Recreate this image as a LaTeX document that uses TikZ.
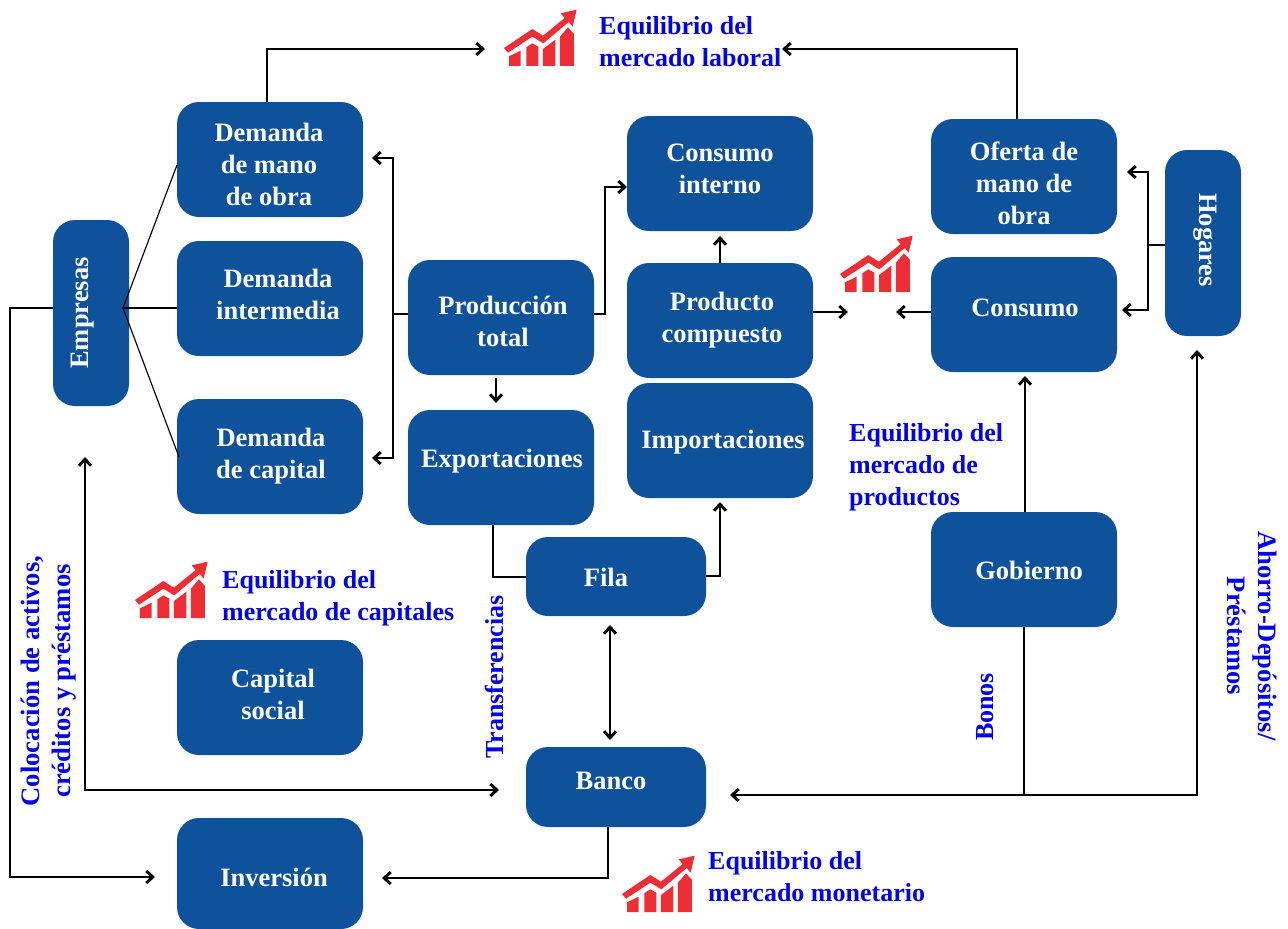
\documentclass[tikz,border=0pt]{standalone}
\usepackage{fontspec}
\setmainfont{Liberation Serif}
\usetikzlibrary{arrows.meta}
\definecolor{boxblue}{HTML}{0F529C}
\definecolor{labblue}{HTML}{0000F0}
\definecolor{iconred}{HTML}{EE2E34}
\tikzset{
  boxst/.style={fill=boxblue,draw=none,rounded corners=22pt,inner sep=0pt,outer sep=0pt},
  boxtext/.style={text=white,font=\fontsize{26.5}{32}\selectfont\bfseries,align=center,inner sep=0pt},
  labeltext/.style={text=labblue,font=\fontsize{26}{32}\selectfont\bfseries,inner sep=0pt},
  sidetext/.style={text=labblue,font=\fontsize{26.6}{31}\selectfont\bfseries,inner sep=0pt},
  conn/.style={line width=1.15pt,draw=black,line join=miter},
  arr/.style={conn,-{Straight Barb[length=6.5pt,width=12pt,line width=3pt]}},
  darr/.style={conn,{Straight Barb[length=6.5pt,width=12pt,line width=3pt]}-{Straight Barb[length=6.5pt,width=12pt,line width=3pt]}},
}
\newcommand{\bx}[8][0]{% rotation; name; x0;y0;x1;y1; text centre "x,y"; text
  \pgfmathsetmacro{\bw}{#5-#3}\pgfmathsetmacro{\bh}{#6-#4}
  \pgfmathsetmacro{\bcx}{(#5+#3)/2}\pgfmathsetmacro{\bcy}{(#6+#4)/2}
  \node[boxst,minimum width=\bw pt,minimum height=\bh pt] (#2) at (\bcx,\bcy) {};
  \node[boxtext,rotate=#1] (#2-t) at (#7) {#8};
}
\newcommand{\trendicon}[2]{%
  \begin{scope}[shift={(#1,#2)},x=0.3333pt,y=-0.3333pt,fill=iconred,draw=none]
    \fill (120,162)--(205,105)--(237,125)--(302,72)--(290,58)--(338,47)--(326,98)--(314,84)--(238,148)--(205,128)--(132,176)--cycle;
    \fill (135,216)--(135,187)--(170,170)--(170,216)--cycle;
    \fill (187,216)--(187,160)--(205,148)--(223,158)--(223,216)--cycle;
    \fill (237,216)--(237,165)--(274,137)--(274,216)--cycle;
    \fill (288,216)--(288,128)--(312,100)--(330,120)--(330,216)--cycle;
  \end{scope}
}
\begin{document}
\begin{tikzpicture}[x=1pt,y=-1pt]
\useasboundingbox (0,0) rectangle (1288,929);

% boxes
\bx{dmano}{177}{102}{363}{217}{269,164}{Demanda\\de mano\\de obra}
\bx{dinter}{177}{241}{363}{356}{278,294}{Demanda\\intermedia}
\bx{dcap}{177}{399}{363}{514}{271,456}{Demanda\\de capital}
\bx[90]{empresas}{53}{220}{129}{406}{83,313}{Empresas}
\bx{prod}{408}{260}{594}{375}{503,321}{Producción\\total}
\bx{expo}{408}{410}{594}{525}{502,461}{Exportaciones}
\bx{cint}{627}{116}{813}{231}{720,169}{Consumo\\interno}
\bx{pcomp}{627}{263}{813}{378}{722,320}{Producto\\compuesto}
\bx{impo}{627}{383}{813}{498}{723,442}{Importaciones}
\bx{oferta}{931}{119}{1117}{234}{1024,183}{Oferta de\\mano de\\obra}
\bx{consumo}{931}{257}{1117}{372}{1025,308}{Consumo}
\bx[-90]{hogares}{1165}{150}{1241}{336}{1205,240}{Hogares}
\bx{fila}{526}{537}{706}{616}{606,577}{Fila}
\bx{banco}{526}{747}{706}{827}{611,781}{Banco}
\bx{gob}{931}{512}{1117}{627}{1029,570}{Gobierno}
\bx{capsoc}{177}{640}{363}{755}{273,694}{Capital\\social}
\bx{inv}{177}{818}{363}{929}{274,877}{Inversión}

% icons
\trendicon{464}{-6}
\trendicon{800}{220}
\trendicon{95}{546}
\trendicon{582}{840}

% labels
\node[labeltext,align=left,anchor=west] (l1) at (599,42) {Equilibrio del\\mercado laboral};
\node[labeltext,align=left,anchor=west] (l2) at (849,467) {Equilibrio del\\mercado de\\productos};
\node[labeltext,align=left,anchor=west] (l3) at (222,598) {Equilibrio del\\mercado de capitales};
\node[labeltext,align=left,anchor=west] (l4) at (708,877) {Equilibrio del\\mercado monetario};
\node[labeltext,rotate=90] (l5) at (494,677) {Transferencias};
\node[sidetext,rotate=90,align=center] (l6) at (49,681) {Colocación de activos,\\créditos y préstamos};
\node[labeltext,rotate=90] (l7) at (985,707) {Bonos};
\node[sidetext,rotate=-90,align=center] (l8) at (1252,636) {Ahorro-Depósitos/\\Préstamos};

% free ends
\coordinate (eLabL) at (485,49);
\coordinate (eLabR) at (782,49);
\coordinate (junE) at (123,308);
\coordinate (junP) at (393,314);
\coordinate (eDmano) at (372,158);
\coordinate (eDcap) at (372,458);
\coordinate (junH) at (1148,245);
\coordinate (eOf) at (1127,172);
\coordinate (eCons) at (1122,310);
\coordinate (eInv) at (155,877);
\coordinate (eInv2) at (382,878);
\coordinate (eP1) at (848,312);
\coordinate (eP2) at (896,312);
\coordinate (eBanco) at (730,795);
\coordinate (eHog) at (1197,350);
\coordinate (junB) at (1024,795);
\coordinate (eEmp) at (85,457);
\coordinate (eBan2) at (499,790);

% connectors
\draw[arr] (dmano.north -| 267,0) -- (267,49) -- (eLabL);
\draw[arr] (oferta.north -| 1017,0) -- (1017,49) -- (eLabR);
\draw[conn] (junE) -- (177,165);
\draw[conn] (junE) -- (dinter.west |- junE);
\draw[conn] (junE) -- (179,457);
\draw[conn] (129,308) -- (junE);
\draw[arr] (empresas.west |- 0,308) -- (10,308) -- (10,877) -- (eInv);
\draw[conn] (prod.west |- junP) -- (junP);
\draw[arr] (junP) -- (393,158) -- (eDmano);
\draw[arr] (junP) -- (393,458) -- (eDcap);
\draw[arr] (prod.east |- 0,314) -- (605,314) -- (605,187) -- (627,187);
\draw[arr] (496,378) -- (496,403);
\draw[arr] (pcomp.north -| 720,0) -- (720,236);
\draw[arr] (pcomp.east |- eP1) -- (eP1);
\draw[arr] (consumo.west |- eP2) -- (eP2);
\draw[conn] (hogares.west |- junH) -- (junH);
\draw[arr] (junH) -- (1148,172) -- (eOf);
\draw[arr] (junH) -- (1148,310) -- (eCons);
\draw[arr] (gob.north -| 1025,0) -- (1025,376);
\draw[conn] (gob.south -| junB) -- (junB);
\draw[darr] (eBanco) -- (1197,795) -- (eHog);
\draw[conn] (expo.south -| 493,0) -- (493,577) -- (fila.west |- 0,577);
\draw[arr] (fila.east |- 0,576) -- (720,576) -- (720,502);
\draw[darr] (610,625) -- (610,740);
\draw[darr] (eBan2) -- (85,790) -- (eEmp);
\draw[arr] (banco.south -| 608,0) -- (608,878) -- (eInv2);
\end{tikzpicture}
\end{document}
